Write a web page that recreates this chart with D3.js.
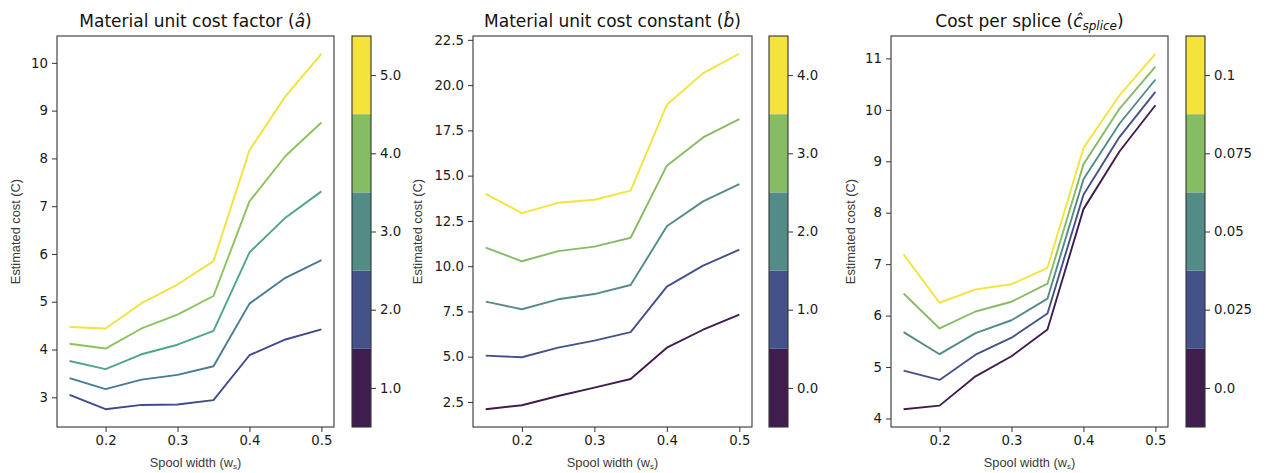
<!DOCTYPE html>
<html>
<head>
<meta charset="utf-8">
<script src="https://cdn.jsdelivr.net/npm/d3@7"></script>
<style>
  body { margin: 0; background: #fff; }
  .tick text { font-family: "DejaVu Sans", sans-serif; font-size: 13.3px; fill: #1a1a1a; }
  .tick line { stroke: #333; }
  .lbl { font-family: "Liberation Sans", Arial, sans-serif; font-size: 12.8px; fill: #3a3a3a; }
  .ttl { font-family: "DejaVu Sans", sans-serif; font-size: 17px; fill: #111; }
</style>
</head>
<body>
<div class="chart"></div>
<script>
// spool widths on the x axis
const widths = [0.15, 0.2, 0.25, 0.3, 0.35, 0.4, 0.45, 0.5];

// panel 1: material unit cost factor levels and curves
const levelsA = [1.0, 2.0, 3.0, 4.0, 5.0];
const costA = [
  [3.05, 2.75, 2.84, 2.85, 2.94, 3.88, 4.21, 4.42],
  [3.40, 3.17, 3.37, 3.47, 3.65, 4.96, 5.50, 5.87],
  [3.76, 3.59, 3.90, 4.10, 4.39, 6.03, 6.76, 7.31],
  [4.12, 4.02, 4.44, 4.73, 5.12, 7.10, 8.05, 8.75],
  [4.47, 4.44, 4.97, 5.36, 5.85, 8.17, 9.30, 10.19]
];

// panel 2: material unit cost constant levels and curves
const levelsB = [0.0, 1.0, 2.0, 3.0, 4.0];
const costB = [
  [2.10, 2.32, 2.83, 3.29, 3.77, 5.50, 6.49, 7.32],
  [5.06, 4.97, 5.50, 5.89, 6.36, 8.87, 10.03, 10.91],
  [8.04, 7.62, 8.17, 8.46, 8.96, 12.20, 13.58, 14.53],
  [11.02, 10.27, 10.83, 11.08, 11.57, 15.55, 17.11, 18.12],
  [13.99, 12.93, 13.50, 13.67, 14.17, 18.91, 20.66, 21.73]
];

// panel 3: cost per splice levels and curves
const levelsC = [0.0, 0.025, 0.05, 0.075, 0.1];
const costC = [
  [4.18, 4.25, 4.82, 5.21, 5.73, 8.07, 9.19, 10.09],
  [4.93, 4.75, 5.24, 5.57, 6.04, 8.35, 9.47, 10.35],
  [5.68, 5.25, 5.66, 5.91, 6.33, 8.65, 9.73, 10.59],
  [6.43, 5.75, 6.08, 6.27, 6.62, 8.94, 10.02, 10.84],
  [7.19, 6.25, 6.51, 6.61, 6.93, 9.26, 10.28, 11.09]
];

// tick labels
const xTicks = [0.2, 0.3, 0.4, 0.5];
const yTicksA = [3, 4, 5, 6, 7, 8, 9, 10];
const yTicksB = [2.5, 5.0, 7.5, 10.0, 12.5, 15.0, 17.5, 20.0, 22.5];
const yTicksC = [4, 5, 6, 7, 8, 9, 10, 11];
const cbarLabelsA = ["1.0", "2.0", "3.0", "4.0", "5.0"];
const cbarLabelsB = ["0.0", "1.0", "2.0", "3.0", "4.0"];
const cbarLabelsC = ["0.0", "0.025", "0.05", "0.075", "0.1"];

const binColors = ["#3f1d4f", "#45528a", "#538c87", "#86bc63", "#f4e33c"];
const lineColorsA = ["#3e4c8b", "#457c93", "#4fa58a", "#8cc25d", "#f2e23b"];

const W = 1266, H = 473;
const plotTop = 36, plotBottom = 427;

const svg = d3.select(".chart")
  .append("svg")
  .attr("width", W)
  .attr("height", H);

const panels = [
  { left: 57, right: 334, cb: [352, 371], levels: levelsA, data: costA, yTicks: yTicksA,
    yFmt: d3.format("d"), cbLabels: cbarLabelsA, lineColors: lineColorsA, labelOff: 37,
    title: ["Material unit cost factor (", "â", ")"] },
  { left: 473, right: 752, cb: [769, 788], levels: levelsB, data: costB, yTicks: yTicksB,
    yFmt: d3.format(".1f"), cbLabels: cbarLabelsB, lineColors: binColors, labelOff: 51,
    title: ["Material unit cost constant (", "b\u0302", ")"] },
  { left: 891, right: 1168, cb: [1186, 1205], levels: levelsC, data: costC, yTicks: yTicksC,
    yFmt: d3.format("d"), cbLabels: cbarLabelsC, lineColors: binColors, labelOff: 36,
    title: ["Cost per splice (", "ĉ", ")"], sub: "splice" }
];

panels.forEach(drawPanel);

function drawPanel(p) {
  const xExt = d3.extent(widths);
  const xPad = (xExt[1] - xExt[0]) * 0.05;
  const x = d3.scaleLinear()
    .domain([xExt[0] - xPad, xExt[1] + xPad])
    .range([p.left, p.right]);

  const yExt = d3.extent(p.data.flat());
  const yPad = (yExt[1] - yExt[0]) * 0.05;
  const y = d3.scaleLinear()
    .domain([yExt[0] - yPad, yExt[1] + yPad])
    .range([plotBottom, plotTop]);

  const g = svg.append("g");

  const line = d3.line()
    .x((d, i) => x(widths[i]))
    .y(d => y(d));

  g.selectAll(".series")
    .data(p.data)
    .enter()
    .append("path")
    .attr("fill", "none")
    .attr("stroke", (d, i) => p.lineColors[i])
    .attr("stroke-width", 1.9)
    .attr("stroke-linejoin", "round")
    .attr("d", line);

  g.append("rect")
    .attr("x", p.left)
    .attr("y", plotTop)
    .attr("width", p.right - p.left)
    .attr("height", plotBottom - plotTop)
    .attr("fill", "none")
    .attr("stroke", "#333")
    .attr("stroke-width", 1.1);

  g.append("g")
    .attr("transform", `translate(0,${plotBottom})`)
    .call(d3.axisBottom(x).tickValues(xTicks).tickFormat(d3.format(".1f")).tickSize(5).tickPadding(4))
    .call(a => a.select(".domain").remove());

  g.append("g")
    .attr("transform", `translate(${p.left},0)`)
    .call(d3.axisLeft(y).tickValues(p.yTicks).tickFormat(p.yFmt).tickSize(5).tickPadding(4))
    .call(a => a.select(".domain").remove());

  // title
  const t = g.append("text")
    .attr("class", "ttl")
    .attr("x", (p.left + p.right) / 2)
    .attr("y", 27)
    .attr("text-anchor", "middle");
  t.append("tspan").text(p.title[0]);
  t.append("tspan").attr("font-style", "italic").text(p.title[1]);
  if (p.sub) {
    t.append("tspan").attr("font-style", "italic").attr("font-size", "12px")
      .attr("dy", 3).text(p.sub);
    t.append("tspan").attr("dy", -3).text(p.title[2]);
  } else {
    t.append("tspan").text(p.title[2]);
  }

  // axis labels
  const xl = g.append("text")
    .attr("class", "lbl")
    .attr("x", (p.left + p.right) / 2)
    .attr("y", 467)
    .attr("text-anchor", "middle");
  xl.append("tspan").text("Spool width (w");
  xl.append("tspan").attr("font-size", "8px").attr("dy", 2).text("s");
  xl.append("tspan").attr("dy", -2).text(")");

  g.append("text")
    .attr("class", "lbl")
    .attr("transform", `translate(${p.left - p.labelOff},${(plotTop + plotBottom) / 2}) rotate(-90)`)
    .attr("text-anchor", "middle")
    .text("Estimated cost (C)");

  // discrete colorbar
  const step = p.levels[1] - p.levels[0];
  const cy = d3.scaleLinear()
    .domain([p.levels[0] - step / 2, p.levels[p.levels.length - 1] + step / 2])
    .range([plotBottom, plotTop]);

  g.selectAll(".bin")
    .data(p.levels)
    .enter()
    .append("rect")
    .attr("x", p.cb[0])
    .attr("width", p.cb[1] - p.cb[0])
    .attr("y", d => cy(d + step / 2))
    .attr("height", d => cy(d - step / 2) - cy(d + step / 2))
    .attr("fill", (d, i) => binColors[i]);

  g.append("rect")
    .attr("x", p.cb[0])
    .attr("y", plotTop)
    .attr("width", p.cb[1] - p.cb[0])
    .attr("height", plotBottom - plotTop)
    .attr("fill", "none")
    .attr("stroke", "#333")
    .attr("stroke-width", 1.1);

  g.append("g")
    .attr("transform", `translate(${p.cb[1]},0)`)
    .call(d3.axisRight(cy).tickValues(p.levels).tickFormat((d, i) => p.cbLabels[i]).tickSize(5).tickPadding(4))
    .call(a => a.select(".domain").remove());
}
</script>
</body>
</html>
